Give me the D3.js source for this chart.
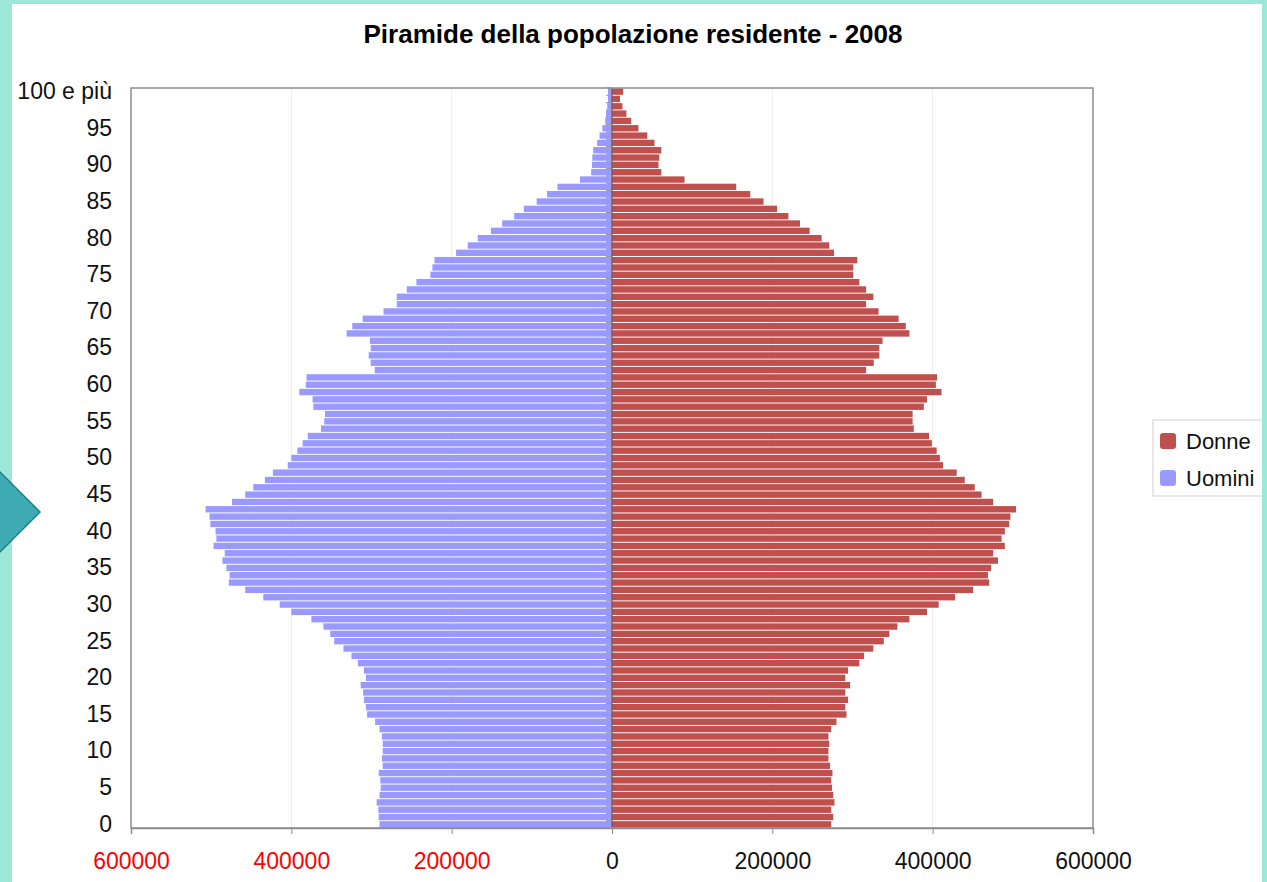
<!DOCTYPE html>
<html>
<head>
<meta charset="utf-8">
<script src="https://cdn.jsdelivr.net/npm/d3@7"></script>
<style>
  body { margin: 0; background: #9be8d8; }
  svg { display: block; font-family: "Liberation Sans", Arial, sans-serif; }
</style>
</head>
<body>
<div id="chart"></div>
<script>
// eta 0 .. 100 (l'ultima classe e' "100 e piu'")
const ages = d3.range(0, 101);
const ageLabels = ages.map(a => a === 100 ? "100 e più" : String(a));

const donne = [
  273500, 276000, 273500, 277500, 276000, 274500, 273500, 275000, 272000, 270000,
  270000, 271000, 270000, 273500, 280000, 292500, 291000, 294500, 291000, 297000,
  291000, 294500, 308500, 314500, 326000, 339000, 346000, 356000, 371000, 393000,
  407500, 428000, 450500, 470500, 469000, 473000, 481500, 475500, 490000, 486000,
  490000, 495500, 497000, 504000, 475500, 461000, 452500, 440000, 430000, 413000,
  409000, 405000, 399000, 395500, 376500, 375000, 375000, 389000, 393000, 411000,
  404000, 405500, 317000, 326500, 333500, 333500, 337500, 371000, 366500, 357500,
  332500, 317000, 326000, 317000, 308500, 301000, 301000, 306000, 277000, 271000,
  261500, 246500, 234500, 220000, 206000, 189000, 172500, 155000, 90500, 61500,
  58000, 59000, 61500, 53000, 44000, 33000, 24000, 18000, 13000, 10000,
  14000
];

const uomini = [
  290000, 291000, 291500, 293500, 290000, 288500, 289000, 291000, 286000, 287000,
  286000, 286000, 287000, 290000, 295500, 305500, 307000, 309500, 310500, 313500,
  307000, 309500, 317000, 325000, 335000, 346500, 351500, 360000, 375000, 400000,
  414500, 435000, 457500, 478000, 477000, 481000, 486000, 483000, 497000, 493500,
  494500, 501000, 502000, 507000, 474000, 457500, 447500, 433000, 423000, 404500,
  400000, 392500, 386000, 379500, 363000, 359000, 358000, 372500, 373500, 390000,
  382000, 381000, 296000, 301000, 303500, 301000, 302000, 331000, 324000, 311000,
  285000, 268500, 268500, 256000, 244000, 226500, 224000, 221500, 194500, 180000,
  167500, 151000, 137000, 122000, 110000, 94000, 81000, 68000, 40000, 26000,
  25000, 24500, 23500, 18500, 15500, 12000, 8500, 7500, 6000, 5000,
  5000
];

const xTicks = [-600000, -400000, -200000, 0, 200000, 400000, 600000];
const yTicks = d3.range(0, 101, 5);
const seriesNames = ["Donne", "Uomini"];
const colori = { Donne: "#c0504d", Uomini: "#9999ff" };

const W = 1267, H = 882;
const plot = { left: 131, right: 1093, top: 88, bottom: 828 };

const svg = d3.select("#chart").append("svg")
  .attr("width", W)
  .attr("height", H);

// pannello bianco della slide
svg.append("rect")
  .attr("x", 12).attr("y", 4)
  .attr("width", 1250).attr("height", H - 4)
  .attr("fill", "#fff");

// freccia decorativa a sinistra
svg.append("polygon")
  .attr("points", "-40,432 40,512 -40,592")
  .attr("fill", "#3eaab4")
  .attr("stroke", "#237d86")
  .attr("stroke-width", 1.5);

svg.append("text")
  .attr("x", 633).attr("y", 43)
  .attr("text-anchor", "middle")
  .attr("font-size", 26)
  .attr("font-weight", "bold")
  .text("Piramide della popolazione residente - 2008");

const x = d3.scaleLinear()
  .domain([-600000, 600000])
  .range([plot.left, plot.right]);

const y = d3.scaleBand()
  .domain(ages.slice().reverse())
  .range([plot.top, plot.bottom])
  .paddingInner(0.13)
  .paddingOuter(0.06);

// griglia verticale
svg.append("g")
  .selectAll("line")
  .data(xTicks.filter(d => d !== 0 && Math.abs(d) !== 600000))
  .enter().append("line")
  .attr("x1", d => x(d)).attr("x2", d => x(d))
  .attr("y1", plot.top).attr("y2", plot.bottom)
  .attr("stroke", "#ececec");

// barre
svg.append("g")
  .selectAll("rect")
  .data(ages)
  .enter().append("rect")
  .attr("x", a => x(-uomini[a]))
  .attr("y", a => y(a))
  .attr("width", a => x(0) - x(-uomini[a]))
  .attr("height", y.bandwidth())
  .attr("fill", colori.Uomini);

svg.append("g")
  .selectAll("rect")
  .data(ages)
  .enter().append("rect")
  .attr("x", x(0))
  .attr("y", a => y(a))
  .attr("width", a => x(donne[a]) - x(0))
  .attr("height", y.bandwidth())
  .attr("fill", colori.Donne);

// asse delle categorie sullo zero
const step = y.step();
svg.append("line")
  .attr("x1", x(0)).attr("x2", x(0))
  .attr("y1", plot.top).attr("y2", plot.bottom)
  .attr("stroke", "#555").attr("stroke-width", 1);
svg.append("g")
  .selectAll("line")
  .data(ages)
  .enter().append("line")
  .attr("x1", x(0) - 6).attr("x2", x(0))
  .attr("y1", a => y(a) - step * 0.065)
  .attr("y2", a => y(a) - step * 0.065)
  .attr("stroke", "#555").attr("stroke-opacity", 0.6);

// bordo area del grafico
svg.append("rect")
  .attr("x", plot.left).attr("y", plot.top)
  .attr("width", plot.right - plot.left)
  .attr("height", plot.bottom - plot.top)
  .attr("fill", "none")
  .attr("stroke", "#8c8c8c")
  .attr("stroke-width", 1.5);

// asse x
const xAxis = svg.append("g")
  .attr("transform", "translate(0," + plot.bottom + ")")
  .call(d3.axisBottom(x).tickValues(xTicks).tickSize(6).tickPadding(19)
    .tickFormat(d => String(Math.abs(d))));
xAxis.select(".domain").attr("stroke", "#8c8c8c").attr("stroke-width", 1.5);
xAxis.selectAll(".tick line").attr("stroke", "#8c8c8c");
xAxis.selectAll(".tick text")
  .attr("font-size", 23)
  .attr("font-family", "Liberation Sans, Arial, sans-serif")
  .attr("fill", d => d < 0 ? "#ff0000" : "#111");

// asse y (etichette eta)
const yAxis = svg.append("g")
  .attr("transform", "translate(" + plot.left + ",0)")
  .call(d3.axisLeft(y).tickValues(yTicks).tickSize(0).tickPadding(19)
    .tickFormat(a => ageLabels[a]));
yAxis.select(".domain").remove();
yAxis.selectAll(".tick text")
  .attr("font-size", 23)
  .attr("font-family", "Liberation Sans, Arial, sans-serif")
  .attr("fill", "#111");

// legenda
const leg = svg.append("g").attr("transform", "translate(1153,420)");
leg.append("rect")
  .attr("width", 112).attr("height", 76)
  .attr("fill", "#fff")
  .attr("stroke", "#cfcfcf");
leg.selectAll("g.item")
  .data(seriesNames)
  .enter().append("g")
  .attr("class", "item")
  .attr("transform", (d, i) => "translate(0," + (21 + i * 37) + ")")
  .each(function(d) {
    const g = d3.select(this);
    g.append("rect")
      .attr("x", 7).attr("y", -8)
      .attr("width", 16).attr("height", 16)
      .attr("rx", 3)
      .attr("fill", colori[d]);
    g.append("text")
      .attr("x", 33).attr("y", 8)
      .attr("font-size", 22)
      .attr("fill", "#111")
      .text(d);
  });

// bordo menta della slide (sopra a tutto)
svg.append("rect").attr("x", 1262).attr("y", 0).attr("width", 5).attr("height", H).attr("fill", "#9be8d8");
</script>
</body>
</html>
